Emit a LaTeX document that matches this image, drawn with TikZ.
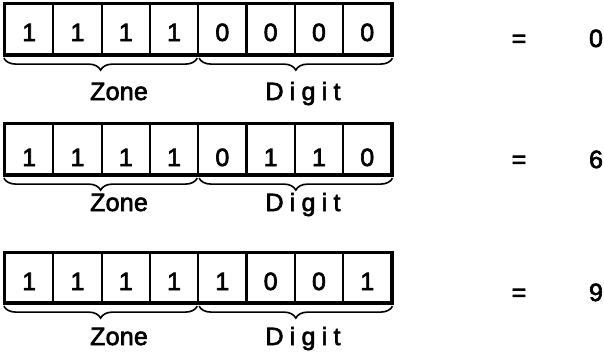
\documentclass[tikz,border=0pt]{standalone}
\usepackage{fontspec}
\setmainfont[FakeBold=2.5]{Liberation Sans}
\newfontfamily\spacedfont[LetterSpace=25,FakeBold=2.5]{Liberation Sans}
\newfontfamily\zonefont[LetterSpace=1,FakeBold=2.5]{Liberation Sans}
\usetikzlibrary{decorations.pathreplacing}
\tikzset{
  bitcell/.style={draw, line width=2.2pt, minimum width=48.3pt, inner sep=0pt},
  bitdigit/.style={anchor=base, inner sep=0pt, font=\fontsize{25}{25}\selectfont},
  outerbox/.style={draw, line width=2.8pt},
  bracestyle/.style={decorate, decoration={brace, mirror, amplitude=12pt}, line width=1.6pt},
  fieldlabel/.style={anchor=base, font=\fontsize{25}{25}\selectfont, inner sep=0pt},
  eqsign/.style={anchor=base, font=\fontsize{25}{25}\selectfont, inner sep=0pt}
}
\begin{document}
\begin{tikzpicture}[x=1pt,y=-1pt]
\useasboundingbox (0,0) rectangle (604,354);
% row / top / bottom / bits / value / digit baseline / label baseline / value baseline
\foreach \r/\ty/\by/\bits/\val/\db/\lb/\vb in {
  1/4/54/{1,1,1,1,0,0,0,0}/0/41/100/47,
  2/124/174/{1,1,1,1,0,1,1,0}/6/166/211/168,
  3/253/302/{1,1,1,1,1,0,0,1}/9/290/345/301} {
  \foreach \b [count=\i] in \bits {
    \node[bitcell, minimum height={(\by-\ty)*1pt}] (r\r c\i) at ({5+48.3*(\i-0.5)}, {(\ty+\by)/2}) {};
    \node[bitdigit] (d\r c\i) at ({5+48.3*(\i-0.5)}, \db) {\b};
  }
  \draw[outerbox] (r\r c1.north west) rectangle (r\r c8.south east);
  \draw[bracestyle] ([yshift=-3pt]r\r c1.south west) -- ([yshift=-3pt,xshift=-2pt]r\r c4.south east);
  \draw[bracestyle] ([yshift=-3pt,xshift=2pt]r\r c5.south west) -- ([yshift=-3pt]r\r c8.south east);
  \node[fieldlabel] (zone\r) at (119, \lb) {\zonefont Zone};
  \node[fieldlabel] (digit\r) at (303, \lb) {\spacedfont Digit};
  \node[eqsign] (eq\r) at (519, \vb) {=};
  \node[eqsign] (val\r) at (596, \vb) {\val};
}
\end{tikzpicture}
\end{document}
